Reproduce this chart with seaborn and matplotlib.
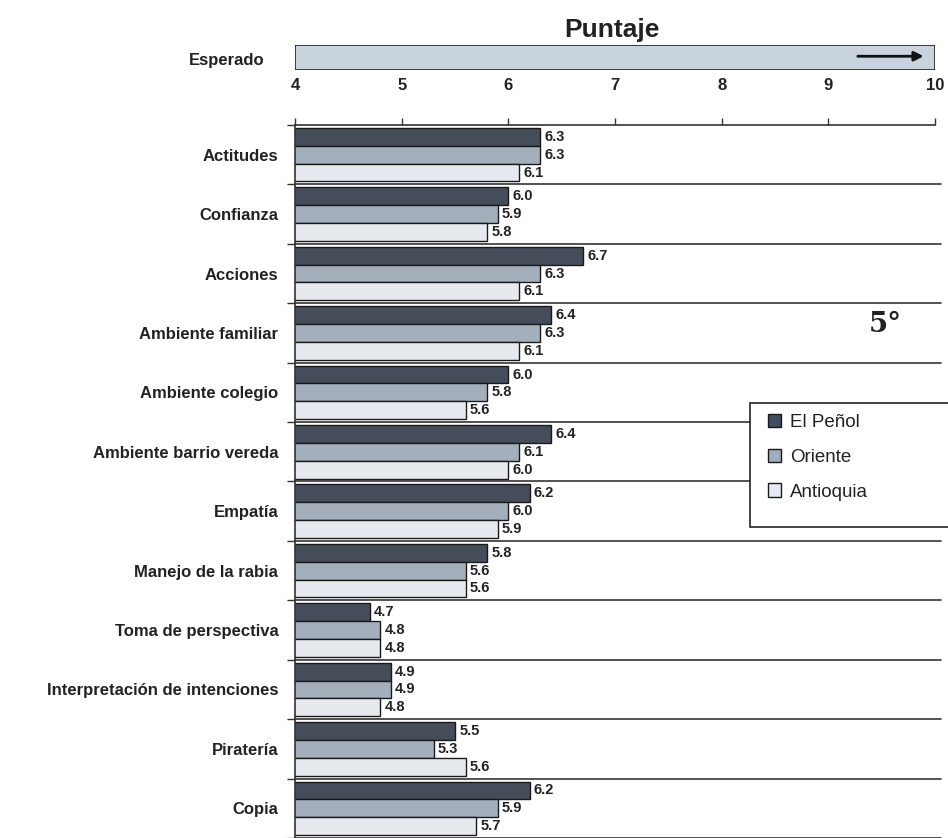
import pandas as pd
import matplotlib.pyplot as plt
from matplotlib.patches import Patch, Rectangle
import seaborn as sns

sns.set_style("white")
plt.rcParams["font.family"] = ["Liberation Sans", "DejaVu Sans"]

## DATA
categorias = ["Actitudes", "Confianza", "Acciones", "Ambiente familiar", "Ambiente colegio",
              "Ambiente barrio vereda", "Empatía", "Manejo de la rabia", "Toma de perspectiva",
              "Interpretación de intenciones", "Piratería", "Copia"]
regiones = ["El Peñol", "Oriente", "Antioquia"]
el_penol = [6.3, 6.0, 6.7, 6.4, 6.0, 6.4, 6.2, 5.8, 4.7, 4.9, 5.5, 6.2]
oriente = [6.3, 5.9, 6.3, 6.3, 5.8, 6.1, 6.0, 5.6, 4.8, 4.9, 5.3, 5.9]
antioquia = [6.1, 5.8, 6.1, 6.1, 5.6, 6.0, 5.9, 5.6, 4.8, 4.8, 5.6, 5.7]
escala = [4, 5, 6, 7, 8, 9, 10]
colores = ["#414c5e", "#a0aec0", "#e4eaf1"]

df = pd.DataFrame({
    "categoria": categorias * 3,
    "region": [r for r in regiones for _ in categorias],
    "puntaje": el_penol + oriente + antioquia,
})

W, H = 948, 838
fig = plt.figure(figsize=(W / 100, H / 100), dpi=100)
X0, XW = 295, 640

## ESPERADO BAR (top scale)
ax_top = fig.add_axes([X0 / W, 1 - 70 / H, XW / W, 25 / H])
ax_top.barh([0], [escala[-1] - escala[0]], left=escala[0], height=1.0,
            color="#c9d3de", edgecolor="#222222", linewidth=1.2)
ax_top.set_xlim(escala[0], escala[-1])
ax_top.set_ylim(-0.5, 0.5)
ax_top.set_xticks(escala)
ax_top.set_xticklabels([str(v) for v in escala], fontsize=12, fontweight="bold", color="#222222")
ax_top.tick_params(axis="x", length=0, pad=6)
ax_top.set_yticks([])
for s in ax_top.spines.values():
    s.set_visible(False)
ax_top.annotate("", xy=(9.92, 0.05), xytext=(9.25, 0.05),
                arrowprops=dict(arrowstyle="-|>", color="#111111", lw=2, mutation_scale=14))
fig.text(265 / W, 1 - 61 / H, "Esperado", ha="right", va="center",
         fontsize=12, fontweight="bold", color="#222222")
fig.text(612 / W, 1 - 30 / H, "Puntaje", ha="center", va="center",
         fontsize=19, fontweight="bold", color="#222222")

## MAIN BARS
ax = fig.add_axes([X0 / W, 0, XW / W, 713 / H])
sns.barplot(data=df, y="categoria", x="puntaje", hue="region", palette=colores,
            orient="h", width=0.9, edgecolor="#1a1a1a", linewidth=1.0,
            ax=ax, legend=False)
ax.set_xlim(escala[0], escala[-1])
ax.set_ylim(len(categorias) - 0.5, -0.5)

for cont in ax.containers:
    ax.bar_label(cont, fmt="%.1f", padding=3, fontsize=10.5, fontweight="bold", color="#222222")

for i in range(len(categorias)):
    ax.axhline(i + 0.5, xmax=1.01, color="#333333", lw=1.2, clip_on=False)

ax.xaxis.tick_top()
ax.set_xticks(escala)
ax.set_xticklabels([])
ax.tick_params(axis="x", top=True, length=5, width=1, direction="out", color="#333333")
ax.set_yticks(range(len(categorias)))
ax.set_yticklabels(categorias, fontsize=12, fontweight="bold", color="#222222")
ax.set_yticks([i + 0.5 for i in range(-1, len(categorias))], minor=True)
ax.tick_params(axis="y", which="major", length=0, pad=12)
ax.tick_params(axis="y", which="minor", left=True, length=6, width=1, color="#333333")
ax.set_xlabel("")
ax.set_ylabel("")
for side in ["right", "bottom"]:
    ax.spines[side].set_visible(False)
for side in ["top", "left"]:
    ax.spines[side].set_color("#333333")
    ax.spines[side].set_linewidth(1.2)

## LEGEND (box runs off the right edge, as in the scan)
fig.patches.append(Rectangle((750 / W, 1 - 527 / H), 230 / W, 124 / H, transform=fig.transFigure,
                             facecolor="white", edgecolor="#222222", lw=1.2, zorder=5))
handles = [Patch(facecolor=c, edgecolor="#1a1a1a", lw=1) for c in colores]
leg = fig.legend(handles, regiones, loc="upper left", bbox_to_anchor=(762 / W, 1 - 408 / H),
                 fontsize=13.5, frameon=False,
                 handlelength=0.7, handleheight=0.7, handletextpad=0.5,
                 labelspacing=0.95, borderpad=0.3, borderaxespad=0)
leg.set_zorder(10)
for t in leg.get_texts():
    t.set_color("#222222")

fig.text(885 / W, 1 - 325 / H, "5°", ha="center", va="center", fontsize=20,
         fontweight="bold", family="DejaVu Serif", color="#222222")

fig.savefig("out.png", dpi=100)
